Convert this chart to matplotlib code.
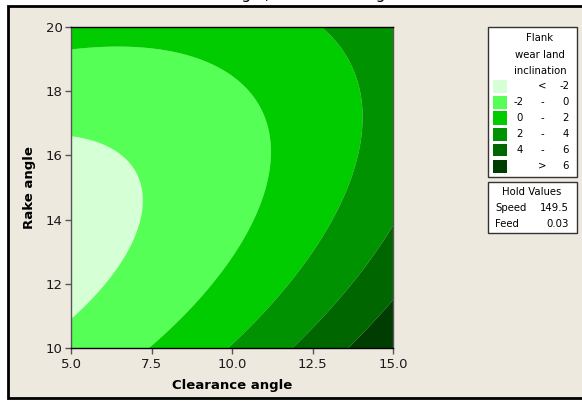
import numpy as np
import matplotlib
matplotlib.use("Agg")
import matplotlib.pyplot as plt
from matplotlib.patches import Rectangle

# ---- data (response-surface model) ----
clearance_range = [5.0, 15.0]
rake_range = [10.0, 20.0]
# f = a + b*u + c*u^2 + d*v + e*v^2 + g*u*v ; u = clearance-5, v = rake-15
coef_a = -2.579
coef_b = 0.172
coef_c = 0.042
coef_d = 0.2205
coef_e = 0.0882
coef_g = -0.067
levels = [-100, -2, 0, 2, 4, 6, 100]
colors = ['#D5FFD5', '#55FF55', '#00CC00', '#009200', '#006700', '#003D00']
legend_rows = [("", "<", "-2"), ("-2", "-", "0"), ("0", "-", "2"),
               ("2", "-", "4"), ("4", "-", "6"), ("", ">", "6")]
xticks = [5.0, 7.5, 10.0, 12.5, 15.0]
yticks = [10, 12, 14, 16, 18, 20]
hold_names = ["Speed", "Feed"]
hold_values = ["149.5", "0.03"]

W, H = 582, 401
BG = '#EEE9DF'
fig = plt.figure(figsize=(W / 100, H / 100), dpi=100)
fig.patch.set_facecolor('white')

def fx(px):
    return px / W

def fy(py):
    return 1 - py / H

# beige panel with black border
panel = Rectangle((fx(8), fy(398)), fx(600) - fx(8), fy(6) - fy(398),
                  transform=fig.transFigure, facecolor=BG, edgecolor='black',
                  linewidth=2, zorder=-5)
fig.patches.append(panel)

# cut-off title at the very top
fig.text(fx(290), fy(-0.5), "Rake angle, Clearance angle", ha='center', va='baseline',
         fontsize=11, color='black', family='DejaVu Sans', zorder=-4)

ax = fig.add_axes([fx(71), fy(348), fx(393) - fx(71), fy(27) - fy(348)], zorder=2)
ax.set_facecolor(BG)

x = np.linspace(clearance_range[0], clearance_range[1], 300)
y = np.linspace(rake_range[0], rake_range[1], 300)
X, Y = np.meshgrid(x, y)
U = X - 5.0
V = Y - 15.0
Z = coef_a + coef_b * U + coef_c * U ** 2 + coef_d * V + coef_e * V ** 2 + coef_g * U * V
ax.contourf(X, Y, Z, levels=levels, colors=colors, antialiased=True)

ax.set_xlim(clearance_range)
ax.set_ylim(rake_range)
ax.set_xticks(xticks)
ax.set_xticklabels([f"{t:.1f}" for t in xticks])
ax.set_yticks(yticks)
ax.set_yticklabels([str(t) for t in yticks])
ax.tick_params(direction='out', length=4, width=1, color='#555555',
               labelsize=9.5, labelcolor='#1a1a1a')
ax.tick_params(axis='x', pad=3)
ax.tick_params(axis='y', pad=2)
for s in ax.spines.values():
    s.set_color('#555555')
    s.set_linewidth(1)
ax.spines['top'].set_color('black')
ax.spines['bottom'].set_color('black')
ax.set_xlabel("Clearance angle", fontsize=9.5, fontweight='bold', labelpad=6)
ax.set_ylabel("Rake angle", fontsize=9.5, fontweight='bold', labelpad=7)

# legend box
box1 = Rectangle((fx(488), fy(177)), fx(577) - fx(488), fy(27) - fy(177),
                 transform=fig.transFigure, facecolor='white', edgecolor='#333333',
                 linewidth=1, zorder=1)
fig.patches.append(box1)
for i, line in enumerate(["Flank", "wear land", "inclination"]):
    fig.text(fx(540), fy(38 + i * 16.5), line, ha='center', va='center', fontsize=7.3)
row_y = [86, 102, 118, 134, 150, 166]
for (lo, sym, hi), col, ry in zip(legend_rows, colors, row_y):
    fig.patches.append(Rectangle((fx(493), fy(ry + 6.5)), fx(507) - fx(493),
                                 fy(ry - 6.5) - fy(ry + 6.5),
                                 transform=fig.transFigure, facecolor=col,
                                 edgecolor='none', zorder=1.5))
    fig.text(fx(523), fy(ry), lo, ha='right', va='center', fontsize=7.3)
    fig.text(fx(542), fy(ry), sym, ha='center', va='center', fontsize=7.3)
    fig.text(fx(569), fy(ry), hi, ha='right', va='center', fontsize=7.3)

box2 = Rectangle((fx(488), fy(233)), fx(577) - fx(488), fy(182) - fy(233),
                 transform=fig.transFigure, facecolor='white', edgecolor='#333333',
                 linewidth=1, zorder=1)
fig.patches.append(box2)
fig.text(fx(532), fy(192), "Hold Values", ha='center', va='center', fontsize=7.3)
for i, (n, v) in enumerate(zip(hold_names, hold_values)):
    fig.text(fx(495), fy(208 + i * 16), n, ha='left', va='center', fontsize=7.3)
    fig.text(fx(569), fy(208 + i * 16), v, ha='right', va='center', fontsize=7.3)

fig.savefig("out.png", dpi=100, facecolor=fig.get_facecolor())
